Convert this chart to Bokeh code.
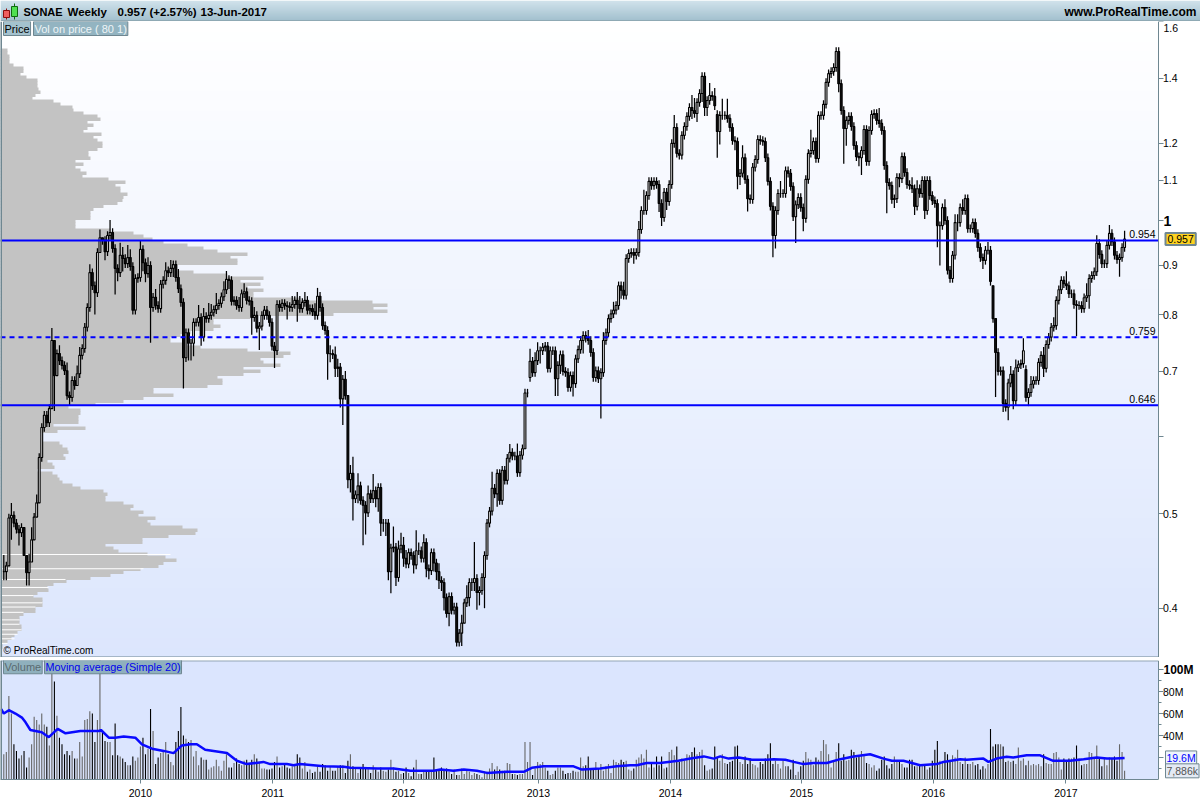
from math import exp, log
from bokeh.plotting import figure
from bokeh.layouts import column
from bokeh.models import Range1d, FixedTicker, Label, Span, LinearScale
from bokeh.core.properties import value
from bokeh.embed import file_html
from bokeh.resources import INLINE

closes = [
.436,.442,.495,.498,.489,.482,.478,.484,.453,.435,
.446,.470,.496,.513,.571,.613,.631,.620,.641,.753,
.693,.730,.718,.710,.701,.661,.658,.685,.677,.696,
.727,.739,.777,.814,.884,.857,.843,.927,.960,.954,
.929,.965,.972,.936,.893,.884,.921,.914,.903,.916,
.897,.809,.872,.874,.934,.905,.882,.899,.814,.834,
.818,.812,.860,.868,.888,.884,.893,.901,.874,.851,
.824,.723,.767,.748,.748,.786,.786,.795,.759,.797,
.793,.799,.805,.810,.818,.822,.835,.849,.870,.868,
.826,.828,.818,.814,.841,.845,.828,.826,.795,.799,
.775,.779,.799,.809,.799,.786,.743,.735,.820,.814,
.822,.818,.816,.814,.820,.828,.820,.812,.824,.828,
.809,.812,.806,.799,.836,.814,.780,.771,.730,.730,
.728,.705,.707,.656,.687,.661,.542,
.550,.518,.523,.534,.516,.510,.501,.524,.518,.528,
.518,.532,.489,.489,.489,.436,.461,.462,.430,.460,
.464,.450,.444,.456,.453,.443,.458,.458,.450,.467,
.439,.437,.456,.445,.436,.427,.425,.410,.395,.411,
.398,.401,.369,.377,.386,.405,.410,.425,.425,.429,
.415,.417,.430,.453,.489,.503,.531,.524,.550,.516,
.554,.541,.570,.578,.573,.573,.551,.574,.583,.665,.665,
.717,.698,.718,.735,.735,.741,.743,.705,.735,.735,
.688,.710,.728,.700,.698,.674,.693,.680,.721,.737,
.753,.762,.757,.753,.732,.690,.701,.688,.698,.753,
.767,.793,.802,.809,.818,.857,.848,.838,.914,.925,.927,.921,.927,
.979,1.024,1.024,1.061,1.097,1.086,1.097,1.089,1.041,1.007,
1.069,1.046,1.089,1.200,1.246,1.172,1.167,1.223,1.249,1.279,
1.306,1.297,1.288,1.322,1.350,1.406,1.306,1.328,1.344,1.341,
1.312,1.234,1.282,1.282,1.282,1.273,1.246,1.208,1.205,1.110,
1.118,1.160,1.102,1.053,1.051,1.134,1.155,1.211,1.208,1.205,
1.160,1.097,1.034,.965,1.024,1.066,1.066,1.066,1.125,1.118,
1.084,1.009,1.038,1.056,1.031,1.005,1.102,1.172,1.180,1.205,
1.158,1.282,1.282,1.316,1.386,1.415,1.422,1.436,1.491,1.382,
1.297,1.243,1.267,1.279,1.249,1.194,1.163,1.160,1.180,1.240,
1.150,1.237,1.285,1.288,1.267,1.258,1.237,1.139,1.094,1.086,
1.051,1.053,1.107,1.104,
1.163,1.120,1.089,1.086,1.078,1.034,1.078,1.066,1.099,1.024,
1.099,1.061,1.048,1.041,.988,.988,1.031,1.000,.889,.872,.921,
.995,.995,1.031,1.024,1.053,.981,.981,.995,.970,.938,
.916,.910,.932,.932,.866,.793,.732,.700,.701,.649,
.643,.681,.695,.653,.706,.711,.713,.735,.658,.666,
.679,.685,.685,.715,.727,.705,.746,.759,.777,.780,
.828,.849,.868,.861,.857,.841,.841,.820,.818,.818,
.812,.833,.837,.872,.878,.886,.947,.923,.903,.903,
.943,.970,.951,.921,.912,.916,.938,.957]

# weeks whose open stands apart from the previous close
gap_weeks = [208, 282, 391, 404]
gap_opens = [.690, 1.285, .857, .703]

# upper and lower wick, per cent of price
upper_wick = [
4,1,1,3,1,1,1,1,0,0, 2,3,1,2,1,1,1,1,1,3, 0,1,2,1,1,2,1,1,1,2, 2,1,1,1,2,1,1,1,2,0,
1,1,3,1,1,1,3,2,1,3, 2,1,1,1,2,1,1,2,1,1, 2,1,1,1,2,1,2,1,1,2, 1,1,1,1,1,1,1,3,1,2,
1,3,2,1,3,1,1,2,2,1, 1,1,1,2,1,2,1,1,1,2, 1,1,1,1,1,1,1,1,1,1, 1,1,1,1,2,1,2,2,1,2,
1,1,1,2,2,1,1,1,1,2, 1,2,2,1,1,2,0, 2,4,1,3,1,1,1,2,1,4, 1,1,1,1,1,1,1,5,1,2,
3,2,2,1,1,1,5,2,1,2, 1,1,1,1,1,2,1,1,1,1, 1,1,1,1,2,1,3,1,1,9, 1,1,1,1,1,1,4,1,1,1,
1,1,1,2,1,1,3,1,1,1,1, 3,1,2,2,1,1,1,1,1,1, 1,1,1,1,1,1,1,1,1,1, 1,1,1,2,1,1,1,1,1,2,
1,1,1,2,1,1,1,2,1,1,1,1,1, 2,1,5,1,1,1,1,1,1,1, 1,1,1,1,3,1,1,1,1,1, 1,3,3,1,1,1,1,1,3,1,
2,1,1,4,1,4,1,1,1,1, 1,3,1,1,1,1,1,1,1,1, 1,1,1,1,1,1,3,1,1,1, 1,1,1,1,1,1,1,1,5,1,
1,1,1,1,1,1,1,1,1,1, 1,1,1,1,1,1,1,1,1,1, 1,1,1,1,1,3,1,1,1,1, 1,1,1,1,
1,1,1,1,2,1,2,1,1,1,1, 1,1,1,1,1,1,2,1,1,1, 2,2,1,2,1,1,1,1,1,1, 1,1,1,2,1,0,0,1,1,1,
1,1,2,1,2,1,1,3,1,1, 2,1,1,1,1,2,1,1,1,2, 1,1,1,1,3,1,1,1,1,1, 1,1,3,1,1,1,2,1,1,1,
1,2,1,1,1,1,1,2]
lower_wick = [
2,2,0,5,1,1,3,1,0,3, 3,0,0,0,0,1,1,1,1,0, 8,0,1,1,1,1,2,1,1,0, 1,1,1,1,1,1,5,1,0,1,
2,1,1,1,6,2,1,3,1,1, 1,1,1,1,1,2,2,1,8,1, 1,1,1,1,1,1,1,2,1,1, 1,7,1,4,4,3,1,1,2,1,
1,1,1,1,1,1,1,1,1,2, 1,1,1,1,1,1,1,1,4,1, 1,5,1,1,1,1,1,4,1,1, 1,1,3,1,1,1,4,1,1,1,
1,1,1,1,1,1,1,1,6,2, 1,2,2,2,6,1,2, 3,5,1,2,1,9,5,1,1,1, 2,3,3,2,3,2,5,1,2,1,
1,2,1,1,1,2,1,1,1,1, 2,2,1,2,2,2,2,3,1,3, 1,1,1,1,3,0,1,2,2,2, 4,3,1,7,1,1,1,1,3,1,
1,1,1,1,1,1,1,1,1,0,1, 1,1,1,1,3,1,1,1,1,1, 4,4,2,1,1,1,1,3,1,1, 1,3,1,1,1,1,1,1,9,1,
1,1,1,1,1,1,2,1,1,1,1,2,1, 1,1,1,1,1,1,1,1,2,2, 1,2,1,1,1,1,1,1,1,1, 1,2,1,2,1,2,2,2,1,1,
1,6,3,1,1,1,1,1,2,3, 2,1,1,3,1,1,1,1,1,1, 1,1,1,5,3,1,1,1,1,1, 1,1,6,1,1,3,1,1,1,1,
1,1,1,1,1,1,1,1,1,2, 1,8,4,1,1,1,1,2,4,1, 1,1,1,1,1,1,1,1,7,1, 1,2,1,2,
1,1,1,1,1,2,1,1,1,2,1, 1,1,1,5,9,1,1,1,1,1, 1,2,1,1,1,1,1,1,1,1, 1,2,1,1,1,1,10,1,1,2,
1,3,1,2,1,1,1,1,1,2, 1,1,1,1,1,2,1,1,1,1, 1,1,1,1,1,1,1,1,7,1, 1,1,1,3,1,1,1,1,1,1,
1,1,1,1,1,4,1,1]

volumes = [
23,25,76,60,32,26,19,22,26,11, 20,32,57,54,50,60,50,48,31,110, 89,58,38,32,23,26,22,26,19,19,
34,21,54,55,62,60,34,54,110,44, 35,34,34,22,51,22,21,19,16,13, 13,21,17,20,30,38,23,28,64,44,
14,20,24,26,34,23,16,13,34,44, 66,40,37,34,36,21,26,13,20,18, 18,9,11,12,18,12,8,17,23,11,
11,15,19,14,13,17,18,14,18,23, 19,16,10,10,9,9,10,16,21,11, 12,14,11,10,12,13,23,
20,10,16,7,9,6,7,12,7,14, 13,8,12,8,8,12,13,13,6,17, 23,12,10,6,11,14,11,11,6,13,
9,7,11,8,7,9,18,11,7,8, 5,6,11,6,3,11,18,5,5,8, 7,8,8,20,8,8,11,9,10,7,
5,9,4,4,10,5,9,7,4,6, 5,4,2,7,7,10,15,9,12,9, 8,8,15,14,5,5,4,5,5,34,
16,34,4,10,16,14,16,11,8,4, 5,8,11,11,8,5,6,6,8,7, 7,20,12,13,21,10,10,16,10,14,
8,12,14,6,18,16,15,18,16,17, 9,8,10,18,20,23,19,27,11,14, 11,21,13,21,10,11,25,27,22,30,
16,19,17,23,22,25,29,23,25,27, 13,8,9,10,30,20,17,23,15,14, 16,17,30,31,16,14,21,14,19,14,
13,11,16,14,19,23,33,14,17,14, 10,17,12,12,9,18,4,7,12,17, 25,19,18,13,20,18,26,36,32,23,
11,17,25,33,17,23,17,18,27,25, 20,22,26,22,15,14,11,13,8,10, 18,21,13,10,14,21,17,17,14,11,
11,18,18,12,12,14,14,13,9,11, 17,27,35,17,16,25,23,16,22,20, 27,16,14,20,14,14,16,13,14,9,
12,10,14,46,30,32,32,32,30,16, 17,16,17,14,29,17,19,13,17,13, 14,13,14,12,23,15,14,14,24,25,
20,9,19,17,19,
19,20,31,19,13,14,14,25,24,20, 31,20,12,20,13,20,19,21,17,32, 25,7.886]

ma_weeks = [-1,0,2,4.6,7.3,8.6,10.5,15,17.8,21.3,24.4,30.3,37.5,38.4,41.5,44,47.4,52,54.6,58.6,63.2,67.1,70.4,
73.7,76.3,79.6,88.2,92.1,96,102.6,105.3,111.9,114.5,117.1,126.5,134.4,137,147.6,154.1,160.7,169.9,172.6,
177.8,181.8,187,191,198.9,205.5,208.7,213.3,225.2,228.5,235.7,242.3,247.6,250.2,254.1,259.4,266.6,271.4,
276.7,280.6,283.2,286.5,290.5,295.7,301.7,304.3,308.9,312.2,316.1,320.1,325.3,330.6,335.9,342.4,347.7,
351,355.6,362.2,368.8,371.4,378,380.6,387.2,389.2,392.4,396.4,399,404.3,409.6,414.8,421.4,426.8,432,436,
439.3,443]
ma_values = [64,60,63,60,56,52,45,43,38.5,46,42,44,44,45,38,38,39,38,32,28,26,24,31,
32,32,27,24,17,14,16,14,14,13,14,12,11.5,10.6,10,10,8,8,9,
8,9,8,6,7,7,10.6,12,12,9,10,12,13,13,15,15,17,19,
21,19,21,19,20,18,18,18.5,18,16,14,15,15,18.5,21,23,19,
17,17,13,14,16,18.5,18,19,16,19,20.6,20,22,22,17,17,18.5,20,19,
19,19.6]

# traded volume per price row, in rows from 1.50 down to 0.364 (scaled in pixels of the panel's width)
profile_vol = [
7,7,9,9,9,13,23,23,20,26, 37,37,37,38,40,35,32,53,60,72, 73,83,97,100,87,93,87,83,101,93,
97,102,102,97,88,88,90,75,83,75, 80,86,82,108,125,115,120,120,127,123, 122,117,103,93,90,90,90,75,75,75,
110,133,143,152,163,187,203,217,247,230, 237,237,177,177,193,227,263,240,260,247,
263,253,253,300,372,387,373,387,333,250, 213,213,220,213,190,180,170,170,185,200,
247,290,283,260,263,280,243,260,243,217, 222,222,207,153,153,173,143,123,95,68,
80,80,78,78,78,53,85,57,40,40, 42,59,62,67,68,63,65,47,52,54, 37,52,57,59,62,72,80,103,107,105,
105,123,133,130,143,138,155,147,150,182, 197,195,168,142,142,105,113,118,147,165,
176,163,158,140,123,110,90,66,53,47, 48,37,33,42,42,42,35,35,23,19, 19,19,21,21,17,14,11,7,2,2]
profile_gap_price = [.454,.439,.428,.420,.412,.405,.401,.396,.389,.385,.380,.376,.372,.368]
profile_gap_vol = [170,143,65,48,33,42,35,23,19,19,21,17,14,7]

levels = [0.954, 0.759, 0.646]
price_ticks = [1.6,1.4,1.2,1.1,1.0,0.9,0.8,0.7,0.6,0.5,0.4]
vol_ticks = [100,80,60,40,20]
vol_minor = [90,70,50,30,10]
year_ticks = [54.0,106.3,158.0,211.3,263.5,315.3,367.4,419.8]
year_labels = ["2010","2011","2012","2013","2014","2015","2016","2017"]

FONT = "Liberation Sans"
GRID = "#6f8791"
STEP = 2.53

def xpx(px):
    return (px - 3.3) / STEP
def ypx(px):
    return exp((220 - px) / 423)

n = len(closes)
weeks = list(range(n))
opens = [closes[0]] + closes[:-1]
for w, o in zip(gap_weeks, gap_opens):
    opens[w] = o
upper_wick = (upper_wick + [1] * n)[:n]
lower_wick = (lower_wick + [1] * n)[:n]
highs = [max(o, c) * (1 + u / 100) for o, c, u in zip(opens, closes, upper_wick)]
lows = [min(o, c) * (1 - l / 100) for o, c, l in zip(opens, closes, lower_wick)]
rising = [c >= o for o, c in zip(opens, closes)]

x_full = (xpx(0), xpx(1200))
x_edge = xpx(1157.5)

def lerp(a, b, t):
    return "#%02x%02x%02x" % tuple(round(a[k] + (b[k] - a[k]) * t) for k in range(3))

# ---------- header band
head = figure(width=1200, height=21, x_range=(0, 1200), y_range=(21, 0), toolbar_location=None,
              output_backend="svg", x_axis_location=None, y_axis_location=None,
              min_border=0, outline_line_color=None)
head.grid.visible = False
rows = 20
head.quad(left=[0]*rows, right=[1200]*rows, top=[r for r in range(rows)], bottom=[r+1.3 for r in range(rows)],
          fill_color=[lerp((202,222,232),(150,184,200),r/(rows-1)) for r in range(rows)], line_color=None)
head.quad(left=[0], right=[1200], top=[20], bottom=[21], fill_color=GRID, line_color=None)
head.segment(x0=[6,14], y0=[8,3], x1=[6,14], y1=[19,19], line_color=["#8a1010","#106a10"], line_width=1)
head.quad(left=[3,11], right=[9,17], top=[10,6], bottom=[17,16], fill_color=["#f06060","#50e050"],
          line_color=["#8a1010","#106a10"])
for tx, s, al, fs in [(23,"SONAE","left","11px"),(67,"Weekly","left","11.5px"),(117,"0.957 (+2.57%)","left","11.5px"),
                      (200,"13-Jun-2017","left","11.5px"),(1196,"www.ProRealTime.com","right","12px")]:
    head.text(x=[tx], y=[11], text=[s], text_font=value(FONT), text_font_style="bold", text_font_size=fs,
              text_baseline="middle", text_align=al, text_color="#000000")

# ---------- price panel
p = figure(width=1200, height=636, y_axis_type="log", y_axis_location="right",
           x_range=Range1d(*x_full), y_range=Range1d(ypx(657), ypx(21)),
           toolbar_location=None, output_backend="svg",
           min_border_left=0, min_border_right=0, min_border_top=0, min_border_bottom=0,
           x_axis_location=None, outline_line_color=None, background_fill_color="#ffffff")
p.grid.visible = False
p.extra_y_ranges = {"bg": Range1d(0, 1)}
p.extra_y_scales = {"bg": LinearScale()}
p.extra_x_ranges = {"profile": Range1d(0, 1200)}
bands = 64
p.quad(left=[x_full[0]]*bands, right=[x_edge]*bands, bottom=[b/bands for b in range(bands)],
       top=[(b+1.3)/bands for b in range(bands)],
       fill_color=[lerp((220,230,253),(255,255,255),b/(bands-1)) for b in range(bands)],
       line_color=None, y_range_name="bg")

rn = len(profile_vol)
la, lb = log(ypx(48)), log(ypx(648))
edges = [exp(la + (lb - la) * k / rn) for k in range(rn + 1)]
p.quad(left=[0]*rn, right=profile_vol, top=edges[:-1], bottom=[e * exp(-0.5/423) for e in edges[1:]],
       fill_color="#c3c3c3", line_color=None, x_range_name="profile")
p.segment(x0=[0]*len(profile_gap_vol), x1=profile_gap_vol, y0=profile_gap_price, y1=profile_gap_price,
          line_color="#ffffff", line_width=1, x_range_name="profile")

p.segment(x0=weeks, x1=weeks, y0=lows, y1=highs, line_color="#000000", line_width=1.25)
p.vbar(x=weeks, width=0.72, bottom=[min(o, c) for o, c in zip(opens, closes)],
       top=[max(o, c) for o, c in zip(opens, closes)],
       fill_color=["#ffffff" if r else "#111111" for r in rising], line_color="#000000", line_width=1.1)

for lv in levels:
    p.segment(x0=[x_full[0]], x1=[x_edge], y0=[lv], y1=[lv], line_color="#0000ff", line_width=2,
              line_dash="5 4" if lv == 0.759 else "solid")
p.segment(x0=[x_full[0]], x1=[x_edge], y0=[ypx(656.5)], y1=[ypx(656.5)], line_color=GRID, line_width=1)
p.add_layout(Span(location=xpx(0.5), dimension="height", line_color=GRID, line_width=2))

ya = p.yaxis[0]
ya.fixed_location = x_edge
ya.ticker = FixedTicker(ticks=price_ticks, minor_ticks=[])
ya.major_label_overrides = {1.6:" ", 1.0:" ", 0.6:" ", 1.4:"1.4", 1.2:"1.2", 1.1:"1.1", 0.9:"0.9", 0.8:"0.8", 0.7:"0.7", 0.5:"0.5", 0.4:"0.4"}
ya.major_label_text_font = FONT
ya.major_label_text_font_size = "10.5px"
ya.major_label_text_color = "#000000"
ya.axis_line_color = GRID
ya.major_tick_line_color = GRID
ya.major_tick_out = 5
ya.major_tick_in = 0
ya.major_label_standoff = 0

def tag(fig, px, y, text, **kw):
    base = dict(x=xpx(px), y=y, text=text, text_font=FONT, text_font_size="10.5px", text_baseline="middle",
                text_color="#000000")
    base.update(kw)
    fig.add_layout(Label(**base))

tag(p, 1163, ypx(27), "1.6")
tag(p, 1163, 1.0, "1", text_font_style="bold", text_font_size="14px")
for lv in levels:
    tag(p, 1155, lv * exp(6/423), "%.3f" % lv, text_align="right")
tag(p, 1165, 0.957, "0.957", background_fill_color="#ffd21f",
    border_line_color=GRID, border_line_width=2, padding=2)
tag(p, 3, ypx(650), "\u00a9 ProRealTime.com", text_font_size="10px")
tag(p, 3, ypx(28), "Price", background_fill_color="#a4c2ce", border_line_color=GRID, padding=1,
    text_font_size="11px")
tag(p, 33, ypx(28), "Vol on price ( 80 1)", background_fill_color="#93b4c1", border_line_color=GRID, padding=1,
    text_color="#eef4f7", text_font_size="11px")

# ---------- volume panel
v = figure(width=1200, height=143, y_axis_location="right", x_range=Range1d(*x_full), y_range=Range1d(0, 108.2),
           toolbar_location=None, output_backend="svg",
           min_border_left=0, min_border_right=0, min_border_top=3, min_border_bottom=21,
           outline_line_color=None, background_fill_color="#ffffff")
v.grid.visible = False
v.quad(left=[x_full[0]], right=[x_edge], bottom=[0], top=[108.2], fill_color="#dbe5fe", line_color=None)
vx = weeks[:len(volumes)]
v.segment(x0=vx, x1=vx, y0=[0]*len(vx), y1=volumes[:len(vx)], line_width=1.1,
          line_color=["#666666" if r else "#000000" for r in rising[:len(vx)]])
v.line(ma_weeks, ma_values, line_color="#0a0aff", line_width=2.5)
v.segment(x0=[x_full[0]], x1=[x_edge], y0=[107.9], y1=[107.9], line_color=GRID, line_width=1)
v.add_layout(Span(location=xpx(0.5), dimension="height", line_color=GRID, line_width=2))

vy = v.yaxis[0]
vy.fixed_location = x_edge
vy.ticker = FixedTicker(ticks=vol_ticks, minor_ticks=vol_minor)
vy.major_label_overrides = {100:" ", 80:"80M", 60:"60M", 40:"40M", 20:" "}
vy.major_label_text_font = FONT
vy.major_label_text_font_size = "10.5px"
vy.major_label_text_color = "#000000"
vy.axis_line_color = GRID
vy.major_tick_line_color = GRID
vy.minor_tick_line_color = GRID
vy.major_tick_out = 5
vy.major_tick_in = 0
vy.minor_tick_out = 3
vy.minor_tick_in = 0
vy.major_label_standoff = 0

vxa = v.xaxis[0]
vxa.bounds = (x_full[0], x_edge)
vxa.ticker = FixedTicker(ticks=year_ticks, minor_ticks=[])
vxa.major_label_overrides = dict(zip(year_ticks, year_labels))
vxa.major_label_text_font = FONT
vxa.major_label_text_font_size = "10.5px"
vxa.major_label_text_color = "#000000"
vxa.axis_line_color = GRID
vxa.major_tick_line_color = GRID
vxa.major_tick_out = 4
vxa.major_tick_in = 0
vxa.major_label_standoff = 5

tag(v, 1163, 100, "100M", text_font_style="bold", text_font_size="12px")
tag(v, 1165, 19.6, "19.6M", text_color="#0000ff", background_fill_color="#eef3fb", border_line_color=GRID, padding=1)
tag(v, 1165, 7.886, "7,886k", text_color="#555555", background_fill_color="#e4eaf4", border_line_color=GRID, padding=1)
tag(v, 3, 102.5, "Volume", background_fill_color="#8fb0bd", border_line_color=GRID, padding=1, text_color="#5a6a70",
    text_font_size="11px")
tag(v, 44, 102.5, "Moving average (Simple 20)", background_fill_color="#8fb0bd", border_line_color=GRID, padding=1,
    text_color="#0000ee", text_font_size="10.8px")

page = column(head, p, v, spacing=0)
open("out.html", "w").write(file_html(page, INLINE))
